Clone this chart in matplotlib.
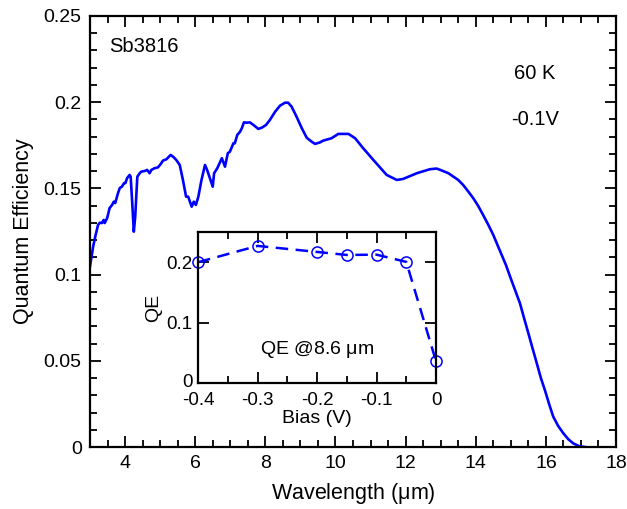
import matplotlib
matplotlib.use("Agg")
import matplotlib.pyplot as plt
import matplotlib.transforms as mtransforms
from matplotlib.ticker import MultipleLocator, FixedLocator, FuncFormatter

plt.rcParams['font.family'] = ['Liberation Sans', 'DejaVu Sans']
plt.rcParams['axes.unicode_minus'] = False
plt.rcParams['mathtext.fontset'] = 'custom'
plt.rcParams['mathtext.rm'] = 'Liberation Sans'
plt.rcParams['mathtext.it'] = 'Liberation Sans'

# Main spectrum: wavelength (um) vs quantum efficiency
wavelength = [3.00, 3.09, 3.15, 3.23, 3.28, 3.34, 3.39, 3.42, 3.49, 3.56, 3.63, 3.68,
              3.72, 3.80, 3.85, 3.91, 3.97, 4.01, 4.06, 4.13, 4.16, 4.20, 4.25, 4.29,
              4.35, 4.42, 4.46, 4.56, 4.63, 4.70, 4.75, 4.84, 4.94, 5.02, 5.08, 5.18,
              5.30, 5.37, 5.46, 5.56, 5.65, 5.74, 5.80, 5.90, 5.96, 6.02, 6.09, 6.18,
              6.28, 6.34, 6.42, 6.50, 6.54, 6.63, 6.76, 6.85, 6.93, 6.99, 7.09, 7.13,
              7.20, 7.28, 7.33, 7.39, 7.47, 7.56, 7.66, 7.80, 7.90, 8.02, 8.13, 8.28,
              8.42, 8.56, 8.65, 8.75, 8.89, 9.04, 9.18, 9.32, 9.42, 9.56, 9.65, 9.89,
              10.08, 10.37, 10.56, 10.79, 11.08, 11.46, 11.75, 11.93, 12.32, 12.69,
              12.88, 12.98, 13.22, 13.50, 13.64, 13.79, 13.93, 14.07, 14.21, 14.36,
              14.50, 14.64, 14.74, 14.86, 14.98, 15.12, 15.26, 15.38, 15.50, 15.62,
              15.74, 15.86, 15.97, 16.10, 16.21, 16.35, 16.50, 16.64, 16.78, 16.95, 17.11]
qe = [0.1046, 0.1162, 0.1220, 0.1288, 0.1301, 0.1299, 0.1317, 0.1299, 0.1328, 0.1386,
      0.1404, 0.1423, 0.1415, 0.1473, 0.1502, 0.1510, 0.1530, 0.1531, 0.1560, 0.1578,
      0.1568, 0.1433, 0.1249, 0.1336, 0.1568, 0.1588, 0.1597, 0.1601, 0.1607, 0.1588,
      0.1607, 0.1617, 0.1622, 0.1642, 0.1661, 0.1669, 0.1694, 0.1684, 0.1665, 0.1636,
      0.1549, 0.1452, 0.1452, 0.1394, 0.1423, 0.1404, 0.1452, 0.1549, 0.1636, 0.1607,
      0.1559, 0.1510, 0.1588, 0.1617, 0.1675, 0.1626, 0.1704, 0.1713, 0.1762, 0.1762,
      0.1810, 0.1829, 0.1849, 0.1883, 0.1881, 0.1883, 0.1868, 0.1845, 0.1852, 0.1868,
      0.1897, 0.1945, 0.1980, 0.1997, 0.1997, 0.1974, 0.1916, 0.1849, 0.1794, 0.1771,
      0.1758, 0.1767, 0.1777, 0.1791, 0.1816, 0.1816, 0.1791, 0.1733, 0.1665, 0.1578,
      0.1549, 0.1555, 0.1588, 0.1611,
      0.1615, 0.1608, 0.1588, 0.1549, 0.1520, 0.1481, 0.1443, 0.1398, 0.1346, 0.1288,
      0.1230, 0.1162, 0.1114, 0.1056, 0.0988, 0.0911, 0.0834, 0.0746, 0.0660, 0.0572,
      0.0486, 0.0398, 0.0331, 0.0244, 0.0176, 0.0122, 0.0079, 0.0045, 0.0021, 0.0005, 0.0000]

# Inset: QE at 8.6 um vs bias
bias = [-0.4, -0.3, -0.2, -0.15, -0.1, -0.05, 0.0]
qe_bias = [0.200, 0.227, 0.217, 0.212, 0.2125, 0.2005, 0.036]

main_xticks = [4, 6, 8, 10, 12, 14, 16, 18]
main_yticks = [0, 0.05, 0.1, 0.15, 0.2, 0.25]
inset_xticks = [-0.4, -0.3, -0.2, -0.1, 0]
inset_yticks = [0, 0.1, 0.2]

def fmt(v, pos=None):
    s = ('%.2f' % v).rstrip('0').rstrip('.')
    if s in ('-0', ''):
        s = '0'
    return s

blue = '#0000ff'
fig = plt.figure(figsize=(6.27, 5.09), dpi=100)
ax = fig.add_axes([0.1435, 0.1218, 0.839, 0.8468])
ax.plot(wavelength, qe, color=blue, lw=1.9)
ax.set_xlim(3, 18)
ax.set_ylim(0, 0.25)
ax.xaxis.set_major_locator(FixedLocator(main_xticks))
ax.xaxis.set_minor_locator(MultipleLocator(0.5))
ax.yaxis.set_major_locator(FixedLocator(main_yticks))
ax.yaxis.set_minor_locator(MultipleLocator(0.01))
ax.xaxis.set_major_formatter(FuncFormatter(fmt))
ax.yaxis.set_major_formatter(FuncFormatter(fmt))
ax.tick_params(which='both', direction='in', top=True, right=True, width=1.3, labelsize=14, pad=6)
ax.tick_params(which='major', length=8)
ax.tick_params(which='minor', length=5)
for s in ax.spines.values():
    s.set_linewidth(1.6)
ax.set_xlabel('Wavelength ($\\mu$m)', fontsize=15.5, labelpad=6)
ax.set_ylabel('Quantum Efficiency', fontsize=15.5, labelpad=7)
ax.text(0.036, 0.93, 'Sb3816', transform=ax.transAxes, fontsize=14.5, ha='left', va='center')
ax.text(0.845, 0.866, '60 K', transform=ax.transAxes, fontsize=14.5, ha='center', va='center')
ax.text(0.847, 0.76, '-0.1V', transform=ax.transAxes, fontsize=14.5, ha='center', va='center')

ins = fig.add_axes([0.3158, 0.2475, 0.3796, 0.2967])
ins.plot(bias, qe_bias, color=blue, lw=1.8, ls=(0, (5, 3)), marker='o', ms=8,
         mfc='none', mec=blue, mew=1.1, clip_on=False)
ins.set_xlim(-0.4, 0)
ins.set_ylim(0, 0.25)
ins.xaxis.set_major_locator(FixedLocator(inset_xticks))
ins.xaxis.set_minor_locator(MultipleLocator(0.05))
ins.yaxis.set_major_locator(FixedLocator(inset_yticks))
ins.xaxis.set_major_formatter(FuncFormatter(fmt))
ins.yaxis.set_major_formatter(FuncFormatter(fmt))
ins.tick_params(which='both', direction='in', top=True, right=True, width=1.3, labelsize=13.5)
ins.tick_params(axis='x', pad=6.5)
ins.tick_params(axis='y', pad=4)
ins.tick_params(which='major', length=8)
ins.tick_params(which='minor', length=5)
for s in ins.spines.values():
    s.set_linewidth(1.6)
ins.set_xlabel('Bias (V)', fontsize=14, labelpad=1)
ins.set_ylabel('QE', fontsize=14, labelpad=3)
ins.text(0.5, 0.22, 'QE @8.6 $\\mu$m', transform=ins.transAxes, fontsize=14, ha='center', va='center')

# nudge the inset's "0" y label up slightly so it clears the "-0.4" x label
fig.canvas.draw()
shift = mtransforms.ScaledTranslation(0, 1.5 / 72, fig.dpi_scale_trans)
for lbl in ins.get_yticklabels():
    if lbl.get_text() == '0':
        lbl.set_transform(lbl.get_transform() + shift)

fig.savefig('out.png', dpi=100)
